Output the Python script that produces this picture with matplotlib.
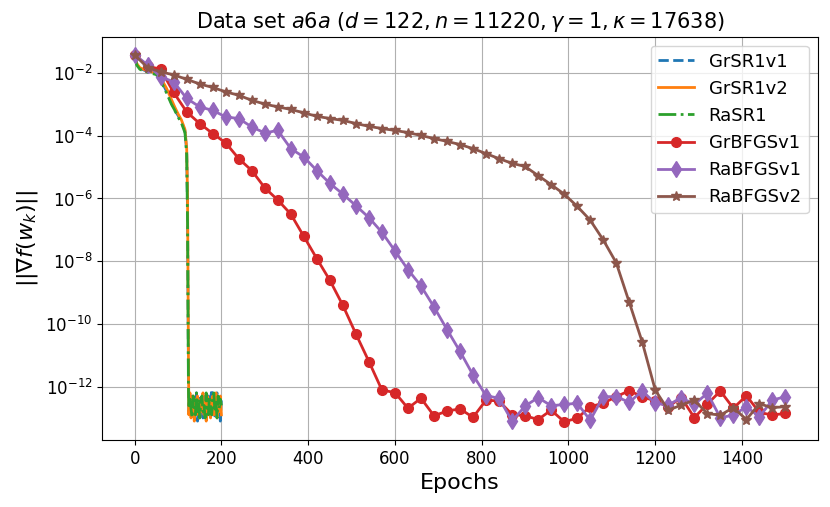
#!/usr/bin/env python3
"""Gradient norm vs epochs for the a6a data set (SR1 / BFGS variants)."""

import numpy as np
import matplotlib
matplotlib.use("Agg")
import matplotlib.pyplot as plt
from matplotlib.ticker import NullLocator

# --- data (log10 of ||grad f||) ---------------------------------------------
# SR1 methods: fast initial phase, then sharp drop and noise at ~1e-12.5
sr1_epochs = [0, 5, 12, 24, 36, 50, 62, 74, 85, 93, 100, 108, 116, 120, 122, 123, 124, 125,
              127.5, 130, 132.5, 135, 137.5, 140, 142.5, 145, 147.5, 150,
              152.5, 155, 157.5, 160, 162.5, 165, 167.5, 170, 172.5, 175,
              177.5, 180, 182.5, 185, 187.5, 190, 192.5, 195, 197.5, 200]

grsr1v1 = [-1.42, -1.72, -1.85, -1.92, -1.97, -2.02, -2.25, -2.60, -2.95, -3.20, -3.35, -3.55,
           -3.85, -4.50, -6.50, -9.00, -11.50, -12.80,
           -12.5, -12.9, -12.3, -13.0, -12.4, -12.8, -12.2, -13.1, -12.6, -12.3,
           -12.9, -12.5, -13.0, -12.2, -12.7, -12.4, -13.0, -12.3, -12.8, -12.5,
           -12.1, -12.9, -12.4, -13.0, -12.6, -12.2, -12.9, -12.5, -13.1, -12.4]
grsr1v2 = [-1.42, -1.70, -1.83, -1.90, -1.95, -2.00, -2.20, -2.50, -2.85, -3.10, -3.30, -3.50,
           -3.80, -4.40, -6.00, -8.50, -11.00, -12.90,
           -12.2, -13.0, -12.6, -12.3, -13.1, -12.4, -12.9, -12.3, -12.7, -13.0,
           -12.4, -12.8, -12.2, -12.9, -12.5, -13.1, -12.3, -12.7, -12.4, -13.0,
           -12.6, -12.3, -12.9, -12.5, -12.2, -13.0, -12.4, -12.8, -12.3, -12.9]
rasr1 = [-1.42, -1.75, -1.88, -1.95, -2.00, -2.05, -2.30, -2.65, -3.00, -3.20, -3.40, -3.60,
         -3.90, -4.60, -6.80, -9.50, -12.00, -12.70,
         -12.4, -12.7, -13.0, -12.3, -12.6, -12.9, -12.2, -12.8, -12.4, -13.0,
         -12.5, -12.3, -12.8, -12.6, -13.0, -12.2, -12.7, -12.9, -12.3, -12.6,
         -12.9, -12.4, -12.2, -12.8, -12.5, -13.0, -12.3, -12.7, -12.4, -12.6]

# BFGS methods: one point every 30 epochs
bfgs_epochs = list(range(0, 1501, 30))

grbfgsv1 = [-1.42, -1.78, -1.88, -2.62, -3.24, -3.61, -3.93, -4.23, -4.73, -5.11, -5.66, -6.05,
            -6.50, -7.21, -7.92, -8.61, -9.41, -10.32, -11.20, -12.11, -12.19, -12.69, -12.37,
            -12.93, -12.78, -12.71, -12.98, -12.43, -12.46, -12.89, -12.93, -13.05, -12.75,
            -13.12, -13.01, -12.64, -12.53, -12.32, -12.13, -12.32, -12.46, -12.64, -12.35,
            -12.99, -12.56, -12.14, -12.69, -12.29, -12.82, -12.91, -12.85]
rabfgsv1 = [-1.42, -1.74, -2.12, -2.28, -2.81, -3.08, -3.19, -3.40, -3.45, -3.72, -3.91, -3.83,
            -4.41, -4.68, -5.11, -5.52, -5.86, -6.23, -6.61, -7.08, -7.67, -8.27, -8.79,
            -9.46, -10.18, -10.88, -11.63, -12.29, -12.37, -13.10, -12.62, -12.35, -12.61,
            -12.57, -12.53, -13.07, -12.32, -12.32, -12.50, -12.14, -12.53, -12.59, -12.35,
            -12.57, -12.21, -12.99, -12.91, -12.64, -12.96, -12.43, -12.32]
rabfgsv2 = [-1.42, -1.83, -1.96, -2.06, -2.20, -2.35, -2.46, -2.60, -2.71, -2.87, -2.99, -3.08,
            -3.16, -3.27, -3.38, -3.45, -3.51, -3.61, -3.70, -3.77, -3.83, -3.90, -3.99,
            -4.09, -4.18, -4.28, -4.41, -4.57, -4.73, -4.88, -4.98, -5.27, -5.56, -5.86,
            -6.25, -6.69, -7.32, -8.05, -9.31, -10.58, -12.11, -12.75, -12.59, -12.43,
            -12.86, -12.91, -12.67, -13.05, -12.55, -12.67, -12.64]

title = r"Data set $a6a$ ($d = 122, n = 11220, \gamma = 1, \kappa = 17638$)"


def main():
    fig = plt.figure(figsize=(8.3, 5.07), dpi=100)
    fig.subplots_adjust(left=0.123, right=0.9855, bottom=0.132, top=0.928)
    ax = fig.add_subplot(111)

    lw = 2
    ax.plot(sr1_epochs, np.power(10.0, grsr1v1), "--", color="C0", lw=lw, label="GrSR1v1")
    ax.plot(sr1_epochs, np.power(10.0, grsr1v2), "-", color="C1", lw=lw, label="GrSR1v2")
    ax.plot(sr1_epochs, np.power(10.0, rasr1), "-.", color="C2", lw=lw, label="RaSR1")
    ax.plot(bfgs_epochs, np.power(10.0, grbfgsv1), "-o", color="C3", lw=lw, ms=7,
            label="GrBFGSv1")
    ax.plot(bfgs_epochs, np.power(10.0, rabfgsv1), "-d", color="C4", lw=lw, ms=8,
            label="RaBFGSv1")
    ax.plot(bfgs_epochs, np.power(10.0, rabfgsv2), "-*", color="C5", lw=lw, ms=7,
            label="RaBFGSv2")

    ax.set_yscale("log")
    ax.set_yticks([1e-2, 1e-4, 1e-6, 1e-8, 1e-10, 1e-12])
    ax.yaxis.set_minor_locator(NullLocator())
    ax.set_xticks(range(0, 1401, 200))
    ax.tick_params(labelsize=12)
    ax.grid(True)

    ax.set_xlabel("Epochs", fontsize=16)
    ax.set_ylabel(r"$||\nabla f(w_k)||$", fontsize=16)
    ax.set_title(title, fontsize=15)
    ax.legend(loc="upper right", fontsize=13)

    fig.savefig("out.png", dpi=100)
    plt.close(fig)


if __name__ == "__main__":
    main()
